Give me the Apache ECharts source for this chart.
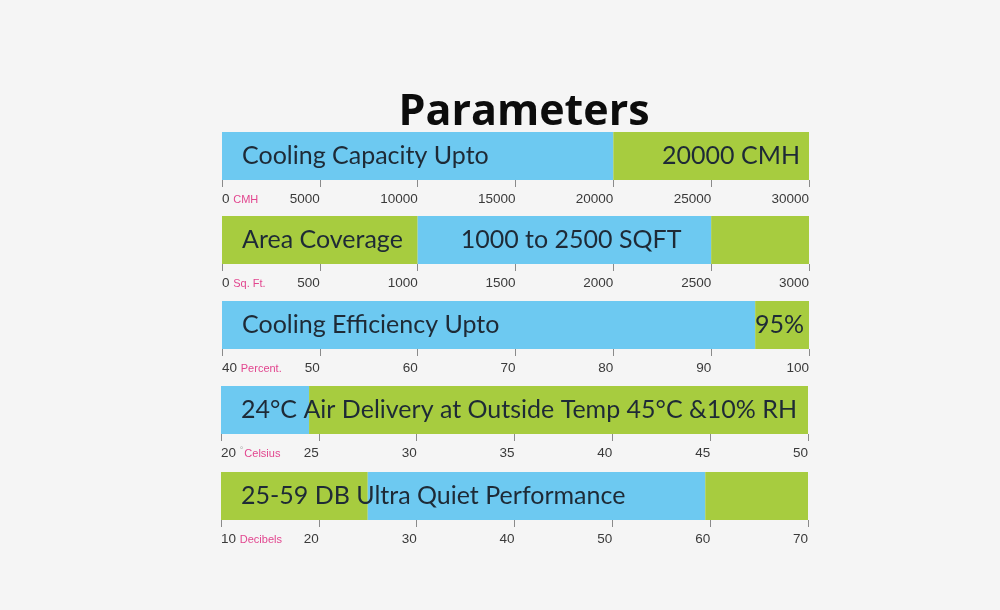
<!DOCTYPE html>
<html>
<head>
<meta charset="utf-8">
<script src="https://cdn.jsdelivr.net/npm/echarts@6/dist/echarts.min.js"></script>
<style>
html,body{margin:0;padding:0;background:#f5f5f5;}
#chart{width:1000px;height:610px;}
</style>
</head>
<body>
<div id="chart"></div>
<script>
// ---- data ----
const chartTitle = 'Parameters';
const axisMin = [0, 0, 40, 20, 10];
const axisMax = [30000, 3000, 100, 50, 70];
const axisStep = [5000, 500, 10, 5, 10];
const axisUnits = ['CMH', 'Sq. Ft.', 'Percent.', 'Celsius', 'Decibels'];
const unitDegree = ['', '', '', '°', ''];
// segment end values for each row
const capacityEnds = [20000, 30000];
const coverageEnds = [1000, 2500, 3000];
const efficiencyEnds = [94.5, 100];
const deliveryEnds = [24.5, 50];
const noiseEnds = [25, 59.5, 70];
// segment colour keys
const capacityColors = ['B', 'G'];
const coverageColors = ['G', 'B', 'G'];
const efficiencyColors = ['B', 'G'];
const deliveryColors = ['B', 'G'];
const noiseColors = ['G', 'B', 'G'];
// segment texts
const capacityTexts = ['Cooling Capacity Upto', '20000 CMH'];
const coverageTexts = ['Area Coverage', '1000 to 2500 SQFT', ''];
const efficiencyTexts = ['Cooling Efficiency Upto', '95%'];
const deliveryTexts = ['24°C Air Delivery at Outside Temp 45°C &10% RH', ''];
const noiseTexts = ['25-59 DB Ultra Quiet Performance', '', ''];

// ---- layout / style ----
const rowEnds = [capacityEnds, coverageEnds, efficiencyEnds, deliveryEnds, noiseEnds];
const rowColors = [capacityColors, coverageColors, efficiencyColors, deliveryColors, noiseColors];
const rowTexts = [capacityTexts, coverageTexts, efficiencyTexts, deliveryTexts, noiseTexts];
const palette = { B: '#6dc9f1', G: '#a7cc3f' };
const rowTops = [132, 216, 301, 386, 472];
const rowLefts = [222, 222, 222, 221, 221];
const textFont = 'Lato';
const textColor = '#1e2a36';
function labelPlacement(r, i) {
  const n = rowEnds[r].length;
  if (i === 0) return { position: 'insideLeft', offset: [15, 0] };
  if (r === 1 && i === 1) return { position: 'insideLeft', offset: [38, 0] };
  if (i === n - 1) return { position: 'insideRight', offset: [r === 2 ? 0 : -4, 0] };
  return { position: 'insideLeft', offset: [10, 0] };
}

const grids = [], xAxes = [], yAxes = [], series = [];
for (let r = 0; r < 5; r++) {
  grids.push({ left: rowLefts[r], width: 587, top: rowTops[r], height: 48 });
  xAxes.push({
    type: 'value', gridIndex: r,
    min: axisMin[r], max: axisMax[r], interval: axisStep[r],
    axisLine: { show: false },
    splitLine: { show: false },
    axisTick: { show: true, length: 7, lineStyle: { color: '#8a8a8a', width: 1 } },
    axisLabel: {
      margin: 12,
      color: '#3a3a3a',
      fontFamily: 'Liberation Sans, Arial, sans-serif',
      fontSize: 13.5,
      align: 'right',
      alignMinLabel: 'left',
      alignMaxLabel: 'right',
      formatter: function (v) {
        if (v === axisMin[r]) {
          return v + ' ' + (unitDegree[r] ? '{d|' + unitDegree[r] + '}' : '') + '{u|' + axisUnits[r] + '}';
        }
        return String(v);
      },
      rich: {
        u: { color: '#e2468f', fontSize: 11, fontFamily: 'Liberation Sans, Arial, sans-serif', padding: [1, 0, 0, 0] },
        d: { color: '#aaaaaa', fontSize: 9, fontFamily: 'Liberation Sans, Arial, sans-serif', padding: [0, 1, 6, 0] }
      }
    }
  });
  yAxes.push({ type: 'category', gridIndex: r, data: ['row'], show: false });
  series.push({
    type: 'bar', xAxisIndex: r, yAxisIndex: r, stack: 'row' + r,
    barWidth: '100%', silent: true,
    itemStyle: { color: 'rgba(0,0,0,0)' },
    data: [axisMin[r]]
  });
  let prev = axisMin[r];
  rowEnds[r].forEach(function (end, i) {
    const pl = labelPlacement(r, i);
    series.push({
      type: 'bar', xAxisIndex: r, yAxisIndex: r, stack: 'row' + r,
      barWidth: '100%',
      itemStyle: { color: palette[rowColors[r][i]] },
      label: {
        show: !!rowTexts[r][i],
        position: pl.position,
        offset: pl.offset,
        formatter: rowTexts[r][i],
        color: textColor,
        fontFamily: textFont,
        fontSize: 25
      },
      data: [end - prev]
    });
    prev = end;
  });
}

const chart = echarts.init(document.getElementById('chart'));
chart.setOption({
  backgroundColor: '#f5f5f5',
  animation: false,
  grid: grids,
  xAxis: xAxes,
  yAxis: yAxes,
  series: series,
  graphic: [{
    type: 'text', x: 524, y: 113,
    style: {
      text: chartTitle, textAlign: 'center', textVerticalAlign: 'middle',
      fontFamily: 'Open Sans', fontWeight: 'bold', fontSize: 43, fill: '#0c0c0c'
    }
  }]
});
</script>
</body>
</html>
